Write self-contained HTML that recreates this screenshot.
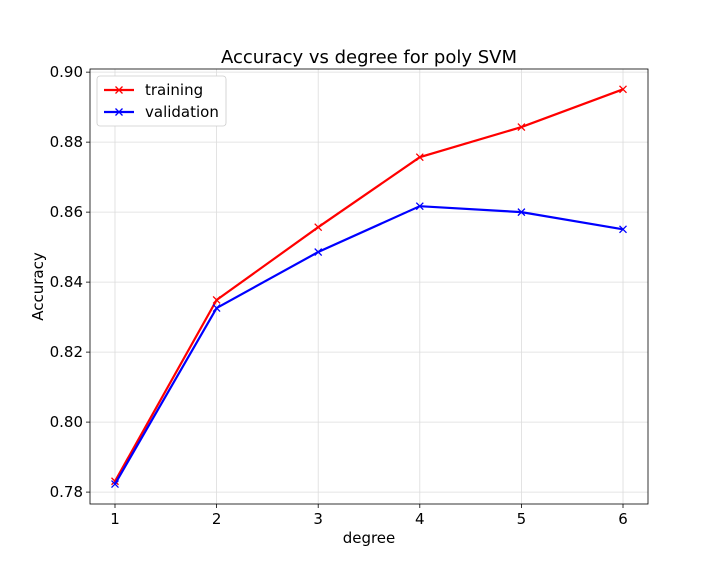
<!DOCTYPE html>
<html><head><meta charset="utf-8"><style>
body{margin:0;background:#fff;}
svg{display:block;font-family:"DejaVu Sans","Liberation Sans",sans-serif;}
</style></head><body>
<svg id="chart" width="720" height="576"></svg>
<script>
const degrees=[1,2,3,4,5,6];
const trainingAcc=[0.7831,0.8349,0.8557,0.8757,0.8843,0.8951];
const validationAcc=[0.7823,0.8326,0.8486,0.8617,0.8600,0.8551];
const yTicks=[0.78,0.80,0.82,0.84,0.86,0.88,0.90];
const yTickLabels=["0.78","0.80","0.82","0.84","0.86","0.88","0.90"];
const xTicks=[1,2,3,4,5,6];

const L=90,R=648,T=69,B=504;
const xMin=0.754,xMax=6.246,yMin=0.7766,yMax=0.9009;
const sx=v=>L+(v-xMin)/(xMax-xMin)*(R-L);
const sy=v=>B-(v-yMin)/(yMax-yMin)*(B-T);
const svg=document.getElementById('chart');
const NS="http://www.w3.org/2000/svg";
function mk(tag,attrs,parent){const e=document.createElementNS(NS,tag);for(const k in attrs)e.setAttribute(k,attrs[k]);(parent||svg).appendChild(e);return e;}

xTicks.forEach(v=>{
  const g=mk('line',{x1:sx(v),x2:sx(v),y1:T,y2:B,stroke:'#dcdcdc','stroke-width':0.8});
  
  
  const t=mk('line',{x1:sx(v),x2:sx(v),y1:B,y2:B+4,stroke:'#000','stroke-width':0.8});
  
  
  const tx=mk('text',{x:sx(v),y:B+20,'text-anchor':'middle','font-size':15});
  tx.textContent=v;
  
  
});
yTicks.forEach((v,i)=>{
  const g=mk('line',{x1:L,x2:R,y1:sy(v),y2:sy(v),stroke:'#dcdcdc','stroke-width':0.8});
  
  
  const t=mk('line',{x1:L-4,x2:L,y1:sy(v),y2:sy(v),stroke:'#000','stroke-width':0.8});
  
  
  const tx=mk('text',{x:L-7,y:sy(v)+5,'text-anchor':'end','font-size':15});
  tx.textContent=yTickLabels[i];
  
  
});

function series(vals,color,name){
  const pts=degrees.map((d,i)=>sx(d)+','+sy(vals[i])).join(' ');
  const p=mk('polyline',{points:pts,fill:'none',stroke:color,'stroke-width':2.2});
  
  
  degrees.forEach((d,i)=>{
    const x=sx(d),y=sy(vals[i]);
    const m=mk('path',{d:`M${x-3.5},${y-3.5}L${x+3.5},${y+3.5}M${x-3.5},${y+3.5}L${x+3.5},${y-3.5}`,stroke:color,'stroke-width':1.3});
    
    
  });
}
series(trainingAcc,'#ff0000','training');
series(validationAcc,'#0000ff','validation');

const frame=mk('rect',{x:L,y:T,width:R-L,height:B-T,fill:'none',stroke:'#000','stroke-width':0.8});



const title=mk('text',{x:(L+R)/2,y:63,'text-anchor':'middle','font-size':18});
title.textContent='Accuracy vs degree for poly SVM';


const xl=mk('text',{x:(L+R)/2,y:543,'text-anchor':'middle','font-size':15});
xl.textContent='degree';


const yl=mk('text',{x:43,y:(T+B)/2,'text-anchor':'middle','font-size':15,transform:`rotate(-90 43 ${(T+B)/2})`});
yl.textContent='Accuracy';



const lg=mk('g',{});


mk('rect',{x:97,y:76,width:129,height:50,rx:3,fill:'#fff',stroke:'#ccc','stroke-width':0.8},lg);
[['training','#ff0000',90],['validation','#0000ff',112]].forEach(([n,c,y])=>{
  const e=mk('g',{},lg);
  
  
  mk('line',{x1:104,x2:134,y1:y,y2:y,stroke:c,'stroke-width':2.2},e);
  mk('path',{d:`M115.5,${y-3.5}L122.5,${y+3.5}M115.5,${y+3.5}L122.5,${y-3.5}`,stroke:c,'stroke-width':1.3},e);
  const t=mk('text',{x:145,y:y+5,'font-size':15},e);
  t.textContent=n;
});
</script>
</body></html>
